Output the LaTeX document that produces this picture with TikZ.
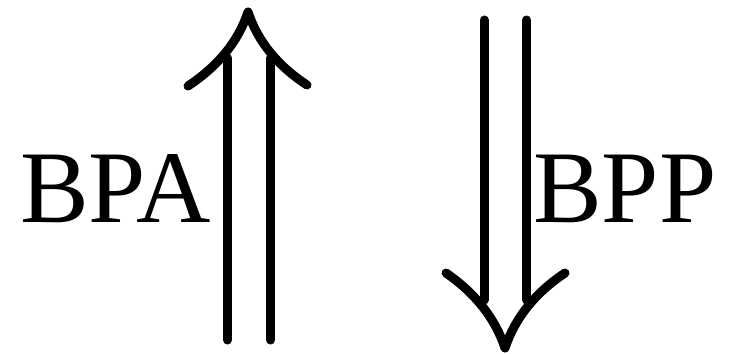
\documentclass[tikz,border=0pt]{standalone}
\usepackage{fontspec}
\newfontfamily\lbfont{Liberation Serif}
\begin{document}
\begin{tikzpicture}[x=1pt,y=-1pt,
  stroke/.style={line width=9pt,line cap=round,line join=round},
  lbl/.style={font=\lbfont\fontsize{103}{103}\selectfont,inner sep=0pt,anchor=base west}]
\useasboundingbox (0,0) rectangle (730,353);
% up arrow
\coordinate (utip) at (248,12);
\coordinate (ul) at (188,86);
\coordinate (ur) at (307,85);
\coordinate (ua1) at (227.5,340);
\coordinate (ua2) at (227.5,58);
\coordinate (ub1) at (270.5,340);
\coordinate (ub2) at (270.5,58);
\draw[stroke] (ua1) -- (ua2);
\draw[stroke] (ub1) -- (ub2);
\draw[stroke] (ul) .. controls (218,66) and (238,42) .. (utip) .. controls (258,42) and (278,66) .. (ur);
% down arrow
\coordinate (dtip) at (505,348);
\coordinate (dl) at (446,273);
\coordinate (dr) at (565,273);
\coordinate (da1) at (484,20);
\coordinate (da2) at (484,300);
\coordinate (db1) at (526.5,20);
\coordinate (db2) at (526.5,300);
\draw[stroke] (da1) -- (da2);
\draw[stroke] (db1) -- (db2);
\draw[stroke] (dl) .. controls (475,293) and (495,318) .. (dtip) .. controls (515,318) and (535,293) .. (dr);
% labels
\node[lbl] (bpa) at (20,222) {BPA};
\node[lbl] (bpp) at (533,222) {BPP};
\end{tikzpicture}
\end{document}
